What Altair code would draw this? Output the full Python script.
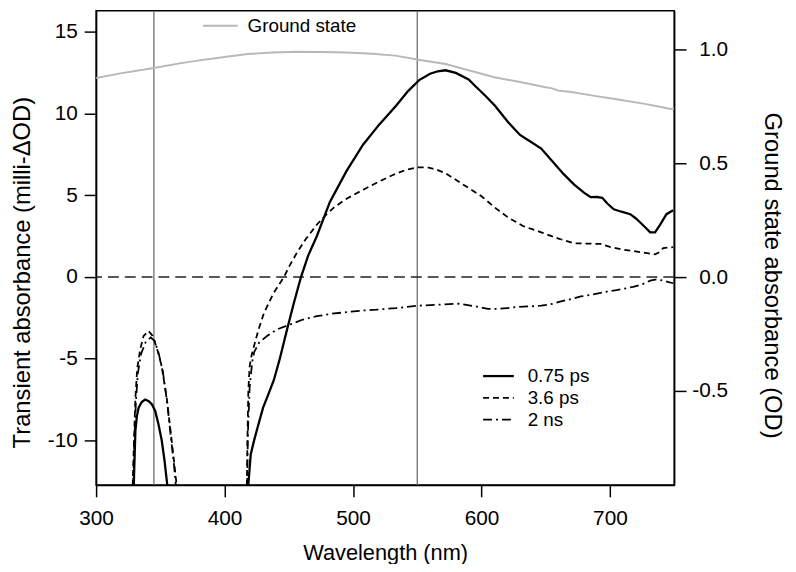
import altair as alt
import pandas as pd

FONT = "Liberation Sans"

# ---------------- data ----------------
# 0.75 ps transient spectrum (two measured segments)
wl_075_uv = [329.0, 329.6, 330.6, 331.8, 333.1, 335.5, 338.2, 341.0, 343.5, 346.0, 348.5, 351.1, 353.2, 355.0, 356.5]
ab_075_uv = [-14.0, -12.0, -9.4, -8.5, -8.0, -7.65, -7.5, -7.6, -7.8, -8.2, -9.0, -10.0, -11.2, -12.45, -13.5]
wl_075_vis = [417.5, 418.5, 420.4, 423.0, 425.6, 430.0, 434.0, 438.4, 443.0, 448.7, 453.9, 459.5, 465.0, 471.8,
              482.0, 495.0, 507.8, 520.0, 533.5, 543.0, 551.5, 560.0, 566.0, 572.0, 580.0, 590.0, 595.1, 603.0,
              610.5, 620.8, 630.0, 638.0, 646.5, 655.0, 664.0, 672.2, 680.0, 685.0, 690.0, 694.0, 698.0, 703.0,
              709.0, 715.8, 720.0, 723.6, 728.0, 731.3, 735.1, 739.0, 744.0, 749.2]
ab_075_vis = [-14.0, -12.7, -10.85, -10.0, -9.24, -8.0, -7.2, -6.3, -5.0, -3.2, -1.6, 0.0, 1.3, 2.5,
              4.6, 6.5, 8.1, 9.3, 10.49, 11.4, 12.06, 12.45, 12.6, 12.66, 12.5, 12.1, 11.7, 11.1,
              10.49, 9.48, 8.7, 8.3, 7.87, 7.1, 6.3, 5.66, 5.15, 4.89, 4.9, 4.85, 4.5, 4.15,
              4.0, 3.85, 3.6, 3.34, 3.0, 2.74, 2.74, 3.2, 3.85, 4.09]

# 3.6 ps transient spectrum
wl_36_uv = [328.0, 328.5, 329.5, 330.6, 332.0, 334.4, 337.0, 340.8, 344.0, 347.5, 350.9, 355.0, 358.8, 361.0, 362.6, 363.5]
ab_36_uv = [-14.0, -12.7, -10.0, -7.4, -5.6, -4.4, -3.6, -3.3, -3.6, -4.4, -5.4, -7.4, -10.0, -11.5, -12.7, -14.0]
wl_36_vis = [417.0, 417.4, 417.8, 418.5, 419.5, 421.0, 423.0, 426.5, 430.7, 438.0, 446.2, 451.0, 456.4, 463.0,
             471.8, 475.7, 485.0, 495.0, 508.0, 520.6, 531.0, 541.2, 550.0, 559.1, 566.0, 572.0, 580.0, 590.0,
             600.0, 610.5, 620.8, 633.0, 646.5, 660.0, 672.2, 682.0, 692.7, 700.0, 710.7, 717.0, 723.6, 730.0,
             735.1, 738.0, 741.5, 745.0, 749.2]
ab_36_vis = [-14.0, -12.7, -10.0, -7.0, -5.5, -4.8, -4.2, -3.2, -2.2, -1.0, 0.0, 0.75, 1.5, 2.3,
             3.2, 3.55, 4.25, 4.8, 5.35, 5.86, 6.25, 6.56, 6.72, 6.7, 6.55, 6.36, 5.95, 5.45,
             4.95, 4.25, 3.64, 3.1, 2.74, 2.35, 2.07, 2.05, 2.03, 1.85, 1.67, 1.6, 1.53, 1.45,
             1.39, 1.5, 1.77, 1.8, 1.83]

# 2 ns transient spectrum
wl_2ns_uv = [328.3, 328.8, 329.8, 331.0, 332.5, 335.0, 338.5, 342.5, 345.5, 348.5, 352.0, 355.5, 358.5, 360.5, 362.0, 363.0]
ab_2ns_uv = [-14.0, -12.7, -10.0, -7.6, -5.9, -4.7, -4.0, -3.7, -3.9, -4.6, -5.8, -7.8, -10.0, -11.4, -12.7, -14.0]
wl_2ns_vis = [417.2, 417.6, 418.2, 419.5, 421.5, 423.0, 427.0, 433.3, 441.0, 451.3, 461.0, 471.8, 483.0, 495.0,
              507.0, 518.0, 533.5, 551.5, 565.0, 582.3, 595.1, 605.0, 613.1, 620.0, 628.5, 637.0, 646.5, 655.0,
              661.9, 670.0, 677.3, 688.0, 697.8, 705.0, 713.2, 718.0, 723.6, 728.0, 731.3, 736.4, 741.5, 745.0, 749.2]
ab_2ns_vis = [-14.0, -12.7, -9.5, -6.8, -5.2, -4.6, -4.0, -3.6, -3.2, -2.9, -2.6, -2.4, -2.25, -2.15,
              -2.05, -2.0, -1.9, -1.75, -1.7, -1.63, -1.79, -1.95, -1.95, -1.9, -1.83, -1.8, -1.75, -1.65,
              -1.49, -1.35, -1.19, -1.05, -0.89, -0.8, -0.68, -0.6, -0.48, -0.35, -0.22, -0.14, -0.22, -0.3, -0.38]

# ground state absorption (right axis)
wl_gs = [300, 320, 345, 365, 379, 400, 418, 437, 456, 475, 495, 515, 533, 551, 572, 590, 610, 630,
         649, 655, 660, 670, 688, 705, 726, 740, 747, 750]
od_gs = [0.876, 0.897, 0.920, 0.940, 0.952, 0.968, 0.981, 0.988, 0.991, 0.990, 0.988, 0.982, 0.974, 0.956,
         0.937, 0.910, 0.879, 0.858, 0.836, 0.830, 0.820, 0.814, 0.797, 0.782, 0.763, 0.748, 0.739, 0.741]

marker_wl = [345, 550]
legend_labels = ["0.75 ps", "3.6 ps", "2 ns"]
gs_label = "Ground state"

x_ticks = [300, 400, 500, 600, 700]
yl_ticks = [-10, -5, 0, 5, 10, 15]
yr_ticks = [-0.5, 0.0, 0.5, 1.0]


def frame(segments, name):
    rows = []
    for i, (w, v) in enumerate(segments):
        for a, b in zip(w, v):
            rows.append({"wl": a, "val": b, "seg": f"{name}{i}"})
    return pd.DataFrame(rows)


df_075 = frame([(wl_075_uv, ab_075_uv), (wl_075_vis, ab_075_vis)], "a")
df_36 = frame([(wl_36_uv, ab_36_uv), (wl_36_vis, ab_36_vis)], "b")
df_2ns = frame([(wl_2ns_uv, ab_2ns_uv), (wl_2ns_vis, ab_2ns_vis)], "c")
df_gs = pd.DataFrame({"wl": wl_gs, "od": od_gs})
df_mark = pd.DataFrame({"wl": marker_wl})
df_zero = pd.DataFrame({"val": [0]})

LBL = 21
fix_minus = "replace(datum.label, '\u2212', '-')"

x_enc = alt.X("wl:Q", scale=alt.Scale(domain=[300, 750], nice=False, zero=False),
              axis=alt.Axis(values=x_ticks, title="Wavelength (nm)", tickSize=12, labelPadding=11,
                            labelFontSize=LBL, titleFontSize=22, titleFontWeight="normal",
                            titleBaseline="alphabetic", titleY=75, labelFlush=False))

yl_enc = alt.Y("val:Q", scale=alt.Scale(domain=[-12.73, 16.3], nice=False, zero=False),
               axis=alt.Axis(values=yl_ticks, title="Transient absorbance (milli-\u0394OD)", tickSize=12,
                             labelPadding=7, labelFontSize=LBL, titleFontSize=24, titleFontWeight="normal",
                             labelExpr=fix_minus, titleX=-62, titleY=264, labelFlush=False))

markers = alt.Chart(df_mark).mark_rule(color="#6e6e6e", strokeWidth=1.3).encode(x=x_enc)
zero = alt.Chart(df_zero).mark_rule(color="#222222", strokeWidth=1.4, strokeDash=[11, 6]).encode(y=yl_enc)

l075 = alt.Chart(df_075).mark_line(color="black", strokeWidth=2.3, clip=True).encode(
    x=x_enc, y=yl_enc, detail="seg:N", order="wl:Q")
l36 = alt.Chart(df_36).mark_line(color="black", strokeWidth=1.8, strokeDash=[6, 4], clip=True).encode(
    x=x_enc, y=yl_enc, detail="seg:N", order="wl:Q")
l2ns = alt.Chart(df_2ns).mark_line(color="black", strokeWidth=1.8, strokeDash=[9, 4, 2, 4], clip=True).encode(
    x=x_enc, y=yl_enc, detail="seg:N", order="wl:Q")

# manual legends
leg_layers = []
dashes = [None, [6, 4], [9, 4, 2, 4]]
widths = [2.3, 1.8, 1.8]
for i, lab in enumerate(legend_labels):
    yy = 369 + 22 * i
    d = pd.DataFrame({"label": [lab]})
    kw = dict(color="black", strokeWidth=widths[i])
    if dashes[i]:
        kw["strokeDash"] = dashes[i]
    leg_layers.append(alt.Chart(d).mark_rule(**kw).encode(
        x=alt.value(391), x2=alt.value(422), y=alt.value(yy)))
    leg_layers.append(alt.Chart(d).mark_text(align="left", baseline="middle", fontSize=19, font=FONT,
                                             color="black").encode(
        x=alt.value(436), y=alt.value(yy), text="label:N"))

dgs = pd.DataFrame({"label": [gs_label]})
leg_layers.append(alt.Chart(dgs).mark_rule(color="#b8b8b8", strokeWidth=2).encode(
    x=alt.value(108), x2=alt.value(143), y=alt.value(15)))
leg_layers.append(alt.Chart(dgs).mark_text(align="left", baseline="middle", fontSize=19, font=FONT,
                                           color="black").encode(
    x=alt.value(153), y=alt.value(15), text="label:N"))

left = alt.layer(markers, zero, l075, l36, l2ns, *leg_layers)

right = alt.Chart(df_gs).mark_line(color="#b8b8b8", strokeWidth=2, clip=True).encode(
    x=x_enc,
    y=alt.Y("od:Q", scale=alt.Scale(domain=[-0.914, 1.171], nice=False, zero=False),
            axis=alt.Axis(orient="right", values=yr_ticks, format=".1f", labelExpr=fix_minus,
                          title="Ground state absorbance (OD)", tickSize=12, labelPadding=42,
                          labelAlign="right", labelFontSize=LBL, titleFontSize=24,
                          titleFontWeight="normal", titleX=86, titleY=267, labelFlush=False)),
)

chart = alt.layer(left, right).resolve_scale(y="independent").properties(
    width=584, height=479,
    autosize=alt.AutoSizeParams(type="none"),
    padding={"left": 89, "top": 0, "right": 115, "bottom": 77},
).configure_view(stroke="black", strokeWidth=1.5).configure_axis(
    grid=False, domainColor="black", domainWidth=1.5, tickColor="black", tickWidth=1.5,
    labelColor="black", titleColor="black", labelFont=FONT, titleFont=FONT,
)

chart.save("out.html", embed_options={"renderer": "svg", "actions": False})
